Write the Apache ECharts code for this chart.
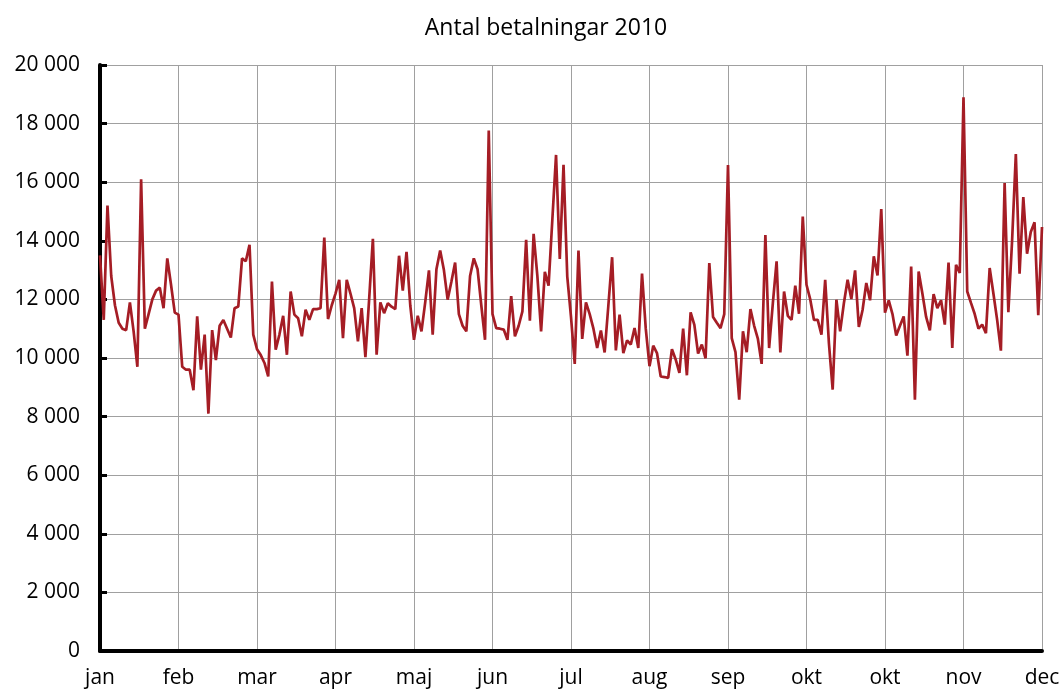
<!DOCTYPE html>
<html>
<head>
<meta charset="utf-8">
<script src="https://cdn.jsdelivr.net/npm/echarts@6/dist/echarts.min.js"></script>
<style>
html,body{margin:0;padding:0;background:#fff;}
#chart{width:1063px;height:693px;}
</style>
</head>
<body>
<div id="chart"></div>
<script>
// Tick labels on the x axis (one every 21 business days)
var monthLabels = ['jan','feb','mar','apr','maj','jun','jul','aug','sep','okt','okt','nov','dec'];
var pointsPerLabel = 21;

// Daily values, grouped by label interval
var janVals = [13500,11300,15200,12800,11800,11200,11000,10950,11900,10900,9700,16100,11000,11500,12000,12300,12400,11700,13400,12500,11550];
var febVals = [11480,9700,9600,9600,8900,11420,9600,10800,8100,10950,9930,11100,11300,11000,10700,11700,11760,13400,13300,13860,10800];
var marVals = [10300,10100,9830,9370,12610,10280,10800,11440,10110,12270,11480,11360,10740,11650,11300,11670,11670,11700,14110,11330,11800];
var aprVals = [12200,12670,10680,12670,12200,11700,10570,11700,10030,12000,14070,10110,11900,11530,11870,11750,11670,13490,12300,13620,11800];
var majVals = [10620,11440,10910,11900,12990,10800,13030,13670,13000,11990,12600,13260,11500,11100,10910,12800,13400,13030,11800,10620,17760];
var junVals = [11500,11020,11000,10970,10620,12110,10740,11100,11590,14030,11270,14240,12800,10910,12940,12470,14700,16930,13380,16590,12780];
var julVals = [11400,9800,13670,10650,11900,11500,11000,10340,10940,10190,11800,13440,10260,11480,10170,10600,10460,11020,10340,12880,11000];
var augVals = [9720,10420,10170,9370,9350,9320,10300,9950,9490,11000,9410,11560,11130,10150,10460,9990,13240,11400,11200,11020,11500];
var sepVals = [16590,10680,10200,8580,10910,10200,11670,11100,10650,9800,14200,10340,11870,13300,10190,12270,11440,11300,12470,11510,14830];
var oktVals = [12500,12000,11300,11300,10800,12670,10500,8920,11990,10910,11870,12670,12010,12990,11060,11640,12560,11970,13470,12820,15080];
var okt2Vals = [11550,11970,11500,10770,11100,11420,10080,13120,8580,12950,12200,11400,10940,12180,11700,11970,11140,13260,10340,13180,12900];
var novVals = [18900,12270,11880,11500,11000,11140,10850,13070,12200,11300,10250,15970,11560,14000,16960,12880,15490,13560,14300,14630,11460];
var decVals = [14470];

var yMin = 0, yMax = 20000, yStep = 2000;

var values = [].concat(janVals, febVals, marVals, aprVals, majVals, junVals, julVals,
                       augVals, sepVals, oktVals, okt2Vals, novVals, decVals);
var categories = values.map(function (v, i) { return i; });

function fmtThousands(v) {
  return String(v).replace(/\B(?=(\d{3})+(?!\d))/g, ' ');
}

var chart = echarts.init(document.getElementById('chart'), null, {renderer: 'canvas'});
var FONT = '"Open Sans", "Noto Sans", sans-serif';

chart.setOption({
  animation: false,
  backgroundColor: '#ffffff',
  title: {
    text: 'Antal betalningar 2010',
    left: 541,
    top: 12,
    textAlign: 'center',
    textStyle: {fontFamily: FONT, fontSize: 23, fontWeight: 'normal', color: '#000'}
  },
  grid: {left: 100, right: 21, top: 65, bottom: 42, containLabel: false},
  xAxis: {
    type: 'category',
    data: categories,
    boundaryGap: false,
    axisLine: {show: true, lineStyle: {color: '#000', width: 4}},
    axisTick: {show: false},
    axisLabel: {
      interval: pointsPerLabel - 1,
      margin: 17,
      fontFamily: FONT, fontSize: 21, color: '#000',
      formatter: function (v, i) { return monthLabels[Math.round(i / pointsPerLabel)]; }
    },
    splitLine: {show: true, interval: pointsPerLabel - 1, lineStyle: {color: '#a0a0a0', width: 1}}
  },
  yAxis: {
    type: 'value',
    min: yMin, max: yMax, interval: yStep,
    axisLine: {show: true, lineStyle: {color: '#000', width: 4}},
    axisTick: {show: true, inside: true, length: 7, lineStyle: {color: '#000', width: 3}},
    axisLabel: {
      margin: 20,
      fontFamily: FONT, fontSize: 21, color: '#000',
      formatter: function (v) { return fmtThousands(v); }
    },
    splitLine: {show: true, lineStyle: {color: '#a0a0a0', width: 1}}
  },
  series: [{
    type: 'line',
    data: values,
    symbol: 'none',
    lineStyle: {color: '#a51d25', width: 2.7},
    itemStyle: {color: '#a51d25'}
  }]
});
</script>
</body>
</html>
